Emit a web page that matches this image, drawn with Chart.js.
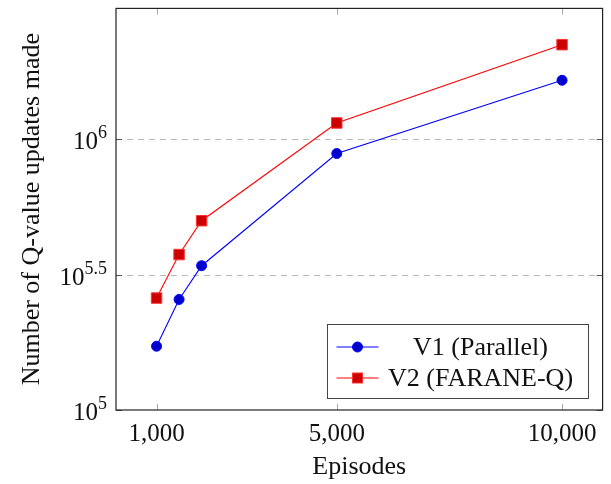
<!DOCTYPE html>
<html><head><meta charset="utf-8">
<script src="https://cdn.jsdelivr.net/npm/chart.js@4.4.1/dist/chart.umd.min.js"></script>
<style>html,body{margin:0;padding:0;background:#fff}</style>
</head><body>
<canvas id="c" width="611" height="484"></canvas>
<script>
// ---- data ----
const episodes = [1000, 1500, 2000, 5000, 10000];
const v1Updates = [172000, 256000, 341000, 885000, 1650000];
const v2Updates = [259000, 375000, 500000, 1148000, 2234000];
const seriesLabels = ["V1 (Parallel)", "V2 (FARANE-Q)"];
const xTickValues = [1000, 5000, 10000];
const xTickLabels = ["1,000", "5,000", "10,000"];
const yTickExponents = [5, 5.5, 6];
const yTickLabelExp = ["5", "5.5", "6"];
const xTitle = "Episodes";
const yTitle = "Number of Q-value updates made";

const FONT = "'Liberation Serif', 'DejaVu Serif', serif";

const toPts = (xs, ys) => xs.map((x, i) => ({x: x, y: ys[i]}));

const decor = {
  id: 'decor',
  beforeDatasetsDraw(chart) {
    const {ctx, chartArea: a, scales: {y}} = chart;
    ctx.save();
    ctx.strokeStyle = '#b8b8b8';
    ctx.lineWidth = 1;
    ctx.setLineDash([6, 5]);
    yTickExponents.forEach(e => {
      const py = Math.round(y.getPixelForValue(Math.pow(10, e))) + 0.5;
      if (Math.abs(py - a.bottom) < 2) return;
      ctx.beginPath(); ctx.moveTo(a.left, py); ctx.lineTo(a.right, py); ctx.stroke();
    });
    ctx.restore();
  },
  afterDatasetsDraw(chart) {
    const {ctx, chartArea: a, scales: {x, y}} = chart;
    ctx.save();
    ctx.lineWidth = 1;
    ctx.strokeStyle = '#a8a8a8';
    xTickValues.forEach(v => {
      const px = Math.round(x.getPixelForValue(v)) + 0.5;
      ctx.beginPath(); ctx.moveTo(px, a.bottom); ctx.lineTo(px, a.bottom - 6); ctx.stroke();
      ctx.beginPath(); ctx.moveTo(px, a.top); ctx.lineTo(px, a.top + 6); ctx.stroke();
    });
    ctx.strokeStyle = '#555';
    yTickExponents.forEach(e => {
      const py = Math.round(y.getPixelForValue(Math.pow(10, e))) + 0.5;
      ctx.beginPath(); ctx.moveTo(a.left, py); ctx.lineTo(a.left + 6, py); ctx.stroke();
      ctx.beginPath(); ctx.moveTo(a.right, py); ctx.lineTo(a.right - 6, py); ctx.stroke();
    });
    ctx.strokeStyle = '#222';
    ctx.lineWidth = 1.2;
    ctx.strokeRect(a.left, a.top, a.right - a.left, a.bottom - a.top);
    ctx.restore();
  },
  afterDraw(chart) {
    const {ctx, chartArea: a, scales: {x, y}} = chart;
    ctx.save();
    ctx.fillStyle = '#111';
    ctx.font = '25px ' + FONT;
    ctx.textAlign = 'center';
    ctx.textBaseline = 'middle';
    xTickValues.forEach((v, i) => {
      ctx.fillText(xTickLabels[i], x.getPixelForValue(v), a.bottom + 24);
    });
    ctx.font = '26px ' + FONT;
    ctx.fillText(xTitle, (a.left + a.right) / 2, a.bottom + 57);
    yTickExponents.forEach((e, i) => {
      const py = y.getPixelForValue(Math.pow(10, e));
      ctx.font = '18px ' + FONT;
      const ew = ctx.measureText(yTickLabelExp[i]).width;
      ctx.font = '25px ' + FONT;
      const bw = ctx.measureText('10').width;
      const right = a.left - 9;
      ctx.textAlign = 'left';
      ctx.textBaseline = 'alphabetic';
      ctx.fillText('10', right - ew - bw, py + 10);
      ctx.font = '18px ' + FONT;
      ctx.fillText(yTickLabelExp[i], right - ew, py - 1);
    });
    ctx.font = '26px ' + FONT;
    ctx.translate(32, (a.top + a.bottom) / 2);
    ctx.rotate(-Math.PI / 2);
    ctx.textAlign = 'center';
    ctx.textBaseline = 'middle';
    ctx.fillText(yTitle, 0, 0);
    ctx.restore();

    // legend
    ctx.save();
    const lx = 327.5, ly = 324.5, lw = 261, lh = 74;
    ctx.fillStyle = '#fff';
    ctx.fillRect(lx, ly, lw, lh);
    ctx.strokeStyle = '#444';
    ctx.lineWidth = 1;
    ctx.strokeRect(lx, ly, lw, lh);
    chart.data.datasets.forEach((ds, i) => {
      const ry = ly + 22.5 + i * 31;
      ctx.strokeStyle = ds.borderColor;
      ctx.lineWidth = ds.borderWidth;
      ctx.beginPath(); ctx.moveTo(lx + 9, ry); ctx.lineTo(lx + 51, ry); ctx.stroke();
      const mx = lx + 30;
      ctx.fillStyle = ds.pointBackgroundColor;
      ctx.strokeStyle = ds.pointBorderColor;
      ctx.lineWidth = 1;
      if (ds.pointStyle === 'rect') {
        ctx.fillRect(mx - 5, ry - 5, 10, 10);
        ctx.strokeRect(mx - 5, ry - 5, 10, 10);
      } else {
        ctx.beginPath(); ctx.arc(mx, ry, 5, 0, Math.PI * 2); ctx.fill(); ctx.stroke();
      }
      ctx.fillStyle = '#111';
      ctx.font = '26px ' + FONT;
      ctx.textAlign = 'center';
      ctx.textBaseline = 'middle';
      ctx.fillText(ds.label, lx + 153, ry + 1);
    });
    ctx.restore();
  }
};

new Chart(document.getElementById('c'), {
  type: 'line',
  data: {
    datasets: [
      {
        label: seriesLabels[0],
        data: toPts(episodes, v1Updates),
        borderColor: '#0000ff',
        borderWidth: 1.1,
        pointStyle: 'circle',
        pointRadius: 5,
        pointBackgroundColor: '#0000cc',
        pointBorderColor: '#0000ff',
        pointBorderWidth: 1,
        tension: 0,
        fill: false
      },
      {
        label: seriesLabels[1],
        data: toPts(episodes, v2Updates),
        borderColor: '#ff0000',
        borderWidth: 1.1,
        pointStyle: 'rect',
        pointRadius: 7.4,
        pointBackgroundColor: '#cc0000',
        pointBorderColor: '#ff3333',
        pointBorderWidth: 1,
        tension: 0,
        fill: false
      }
    ]
  },
  options: {
    responsive: false,
    animation: false,
    devicePixelRatio: 1,
    layout: {padding: {left: 116, right: 7, top: 7.5, bottom: 74}},
    scales: {
      x: {type: 'linear', min: 100, max: 10900, display: false},
      y: {type: 'logarithmic', min: 1e5, max: Math.pow(10, 6.483), display: false}
    },
    plugins: {legend: {display: false}, tooltip: {enabled: false}}
  },
  plugins: [decor]
});
</script>
</body></html>
